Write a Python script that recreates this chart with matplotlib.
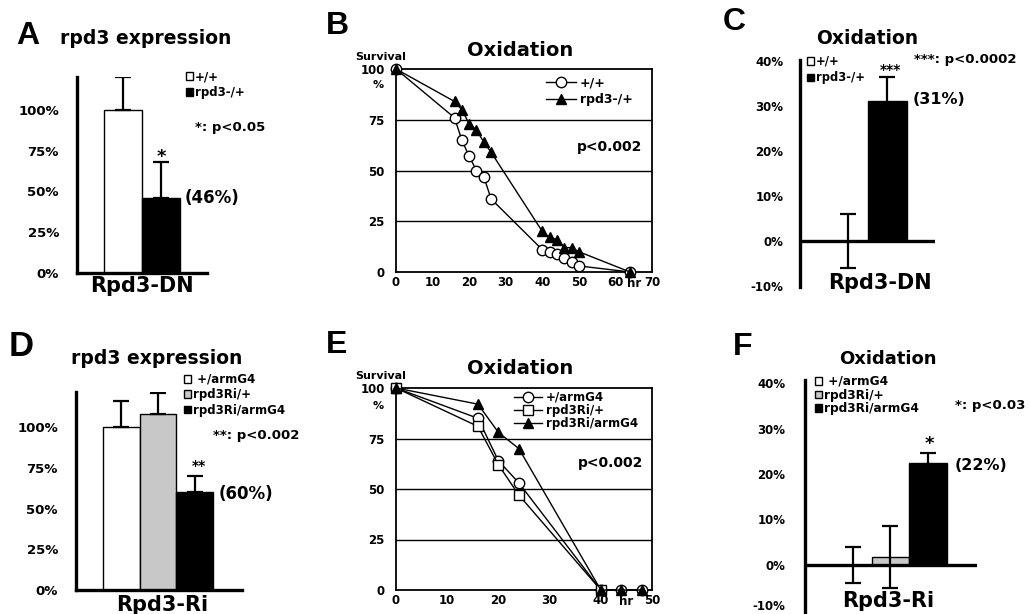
import matplotlib.pyplot as plt

plt.rcParams['font.family'] = ['DejaVu Sans']
plt.rcParams['font.weight'] = 'bold'

W, H = 1030, 614

# --- data -----------------------------------------------------------
# A: rpd3 expression, Rpd3-DN
dn_labels = ['+/+', 'rpd3-/+']
dn_expr = [100, 46]
dn_expr_err = [20, 22]

# B: survival under oxidation, Rpd3-DN
b_wt_hr = [0, 16, 18, 20, 22, 24, 26, 40, 42, 44, 46, 48, 50, 64]
b_wt_surv = [100, 76, 65, 57, 50, 47, 36, 11, 10, 9, 7, 5, 3, 0]
b_dn_hr = [0, 16, 18, 20, 22, 24, 26, 40, 42, 44, 46, 48, 50, 64]
b_dn_surv = [100, 84, 80, 73, 70, 64, 59, 20, 17, 16, 12, 12, 10, 0]

# C: lifespan change under oxidation, Rpd3-DN
dn_oxi = [0, 31]
dn_oxi_err = [6, 5.5]

# D: rpd3 expression, Rpd3-Ri
ri_labels = [' +/armG4', 'rpd3Ri/+', 'rpd3Ri/armG4']
ri_expr = [100, 108, 60]
ri_expr_err = [16, 13, 10]

# E: survival under oxidation, Rpd3-Ri
e_arm_hr = [0, 16, 20, 24, 40, 44, 48]
e_arm_surv = [100, 85, 64, 53, 0, 0, 0]
e_ri_hr = [0, 16, 20, 24, 40]
e_ri_surv = [100, 81, 62, 47, 0]
e_riarm_hr = [0, 16, 20, 24, 40, 44, 48]
e_riarm_surv = [100, 92, 78, 70, 0, 0, 0]

# F: lifespan change under oxidation, Rpd3-Ri
ri_oxi = [0, 1.8, 22.4]
ri_oxi_err = [4, 6.8, 2.3]

fig = plt.figure(figsize=(W / 100, H / 100), dpi=100)


def px_axes(l, t, r, b):
    return fig.add_axes([l / W, 1 - b / H, (r - l) / W, (b - t) / H])


def ptext(x, y, s, **kw):
    kw.setdefault('va', 'center')
    fig.text(x / W, 1 - y / H, s, **kw)


def bar_panel(box, xlim, ylim, ticks, vals, errs, colors, labels,
              up_only, zero_line, tick_fs, pad):
    ax = px_axes(*box)
    xs = list(range(len(vals)))
    handles = []
    for x, v, c, lab in zip(xs, vals, colors, labels):
        handles.append(ax.bar(x, v, width=1, color=c, edgecolor='black',
                              lw=1, label=lab, zorder=2))
    yerr = [[0] * len(errs), errs] if up_only else errs
    ax.errorbar(xs, vals, yerr=yerr, fmt='none', ecolor='black',
                elinewidth=1.6, capsize=6, capthick=1.6, zorder=3)
    ax.set_xlim(*xlim)
    ax.set_ylim(*ylim)
    ax.set_yticks(ticks)
    ax.set_yticklabels([f'{t}%' for t in ticks])
    ax.set_xticks([])
    ax.tick_params(axis='y', length=0, labelsize=tick_fs, pad=pad)
    for s in ['top', 'right']:
        ax.spines[s].set_visible(False)
    ax.spines['left'].set_linewidth(2.4)
    if zero_line:
        ax.spines['bottom'].set_visible(False)
        ax.axhline(0, color='black', lw=2.4, zorder=4)
    else:
        ax.spines['bottom'].set_linewidth(2.4)
    ax.patch.set_alpha(0)
    return ax, handles


def bar_legend(ax, handles, x, y, fs, spacing):
    ax.legend(handles=handles, loc='upper left', frameon=False,
              bbox_to_anchor=(x / W, 1 - y / H), bbox_transform=fig.transFigure,
              borderpad=0, borderaxespad=0, handlelength=0.6, handleheight=0.6,
              handletextpad=0.15, labelspacing=spacing, fontsize=fs)


def surv_panel(box, xmax, series, leg_xy, leg_fs, leg_sp):
    ax = px_axes(*box)
    for hr, surv, mk, fc, lab in series:
        ax.plot(hr, surv, color='black', lw=1, marker=mk, ms=7.5, mfc=fc,
                mec='black', mew=1, label=lab, clip_on=False, zorder=3)
    for v in (25, 50, 75):
        ax.axhline(v, color='black', lw=1, zorder=1)
    ax.set_xlim(0, xmax)
    ax.set_ylim(0, 100)
    ax.set_xticks(range(0, xmax + 1, 10))
    ax.set_yticks([0, 25, 50, 75, 100])
    ax.tick_params(length=0, labelsize=8.5)
    ax.tick_params(axis='x', pad=3)
    ax.tick_params(axis='y', pad=8)
    for s in ax.spines.values():
        s.set_linewidth(1.3)
    ax.legend(loc='upper left', frameon=False,
              bbox_to_anchor=(leg_xy[0] / W, 1 - leg_xy[1] / H),
              bbox_transform=fig.transFigure, borderpad=0, borderaxespad=0,
              handlelength=2.4, handletextpad=0.3, labelspacing=leg_sp,
              fontsize=leg_fs)
    return ax


# ---------------- A ----------------
ax, h = bar_panel((77, 77, 207, 273), (-1.21, 2.21), (0, 120.2),
                  [0, 25, 50, 75, 100], dn_expr, dn_expr_err,
                  ['white', 'black'], dn_labels, True, False, 9.5, 13)
bar_legend(ax, h, 186, 70, 8.5, 0.25)
ptext(16, 36, 'A', fontsize=23, family='Liberation Sans')
ptext(60, 39, 'rpd3 expression', fontsize=13.5)
ptext(195, 127, '*: p<0.05', fontsize=9.5)
ptext(161, 157, '*', fontsize=13, ha='center')
ptext(185, 198, '(46%)', fontsize=12)
ptext(142, 286, 'Rpd3-DN', fontsize=15, ha='center')

# ---------------- B ----------------
ax = surv_panel((396, 69, 652, 272), 70,
                [(b_wt_hr, b_wt_surv, 'o', 'white', '+/+'),
                 (b_dn_hr, b_dn_surv, '^', 'black', 'rpd3-/+')],
                (546, 76), 9, 0.35)
ax.text(65, -2.5, 'hr', fontsize=8.5, ha='center', va='top')
ptext(326, 26, 'B', fontsize=23, family='Liberation Sans')
ptext(520, 51, 'Oxidation', fontsize=14, ha='center')
ptext(381, 57, 'Survival', fontsize=8, ha='center')
ptext(378, 85, '%', fontsize=8, ha='center')
ptext(577, 147, 'p<0.002', fontsize=10)

# ---------------- C ----------------
ax, h = bar_panel((800, 60, 935, 287), (-1.23, 2.23), (-10.2, 40.2),
                  [-10, 0, 10, 20, 30, 40], dn_oxi, dn_oxi_err,
                  ['white', 'black'], dn_labels, False, True, 8.5, 12)
bar_legend(ax, h, 807, 55, 8.3, 0.3)
ptext(723, 22, 'C', fontsize=23, family='Liberation Sans')
ptext(867, 38, 'Oxidation', fontsize=13.5, ha='center')
ptext(914, 59, '***: p<0.0002', fontsize=9.5)
ptext(890, 70, '***', fontsize=10, ha='center')
ptext(913, 100, '(31%)', fontsize=11.5)
ptext(880, 283, 'Rpd3-DN', fontsize=15, ha='center')

# ---------------- D ----------------
ax, h = bar_panel((76, 392, 242, 590), (-1.23, 3.29), (0, 121.5),
                  [0, 25, 50, 75, 100], ri_expr, ri_expr_err,
                  ['white', '#c8c8c8', 'black'], ri_labels, True, False, 9.5, 13)
bar_legend(ax, h, 184, 373, 8.5, 0.2)
ptext(9, 347, 'D', fontsize=25, family='Liberation Sans')
ptext(157, 358, 'rpd3 expression', fontsize=13.5, ha='center')
ptext(213, 436, '**: p<0.002', fontsize=9.5)
ptext(199, 466, '**', fontsize=10, ha='center')
ptext(219, 494, '(60%)', fontsize=12)
ptext(162, 605, 'Rpd3-Ri', fontsize=15, ha='center')

# ---------------- E ----------------
ax = surv_panel((396, 388, 652, 590), 50,
                [(e_arm_hr, e_arm_surv, 'o', 'white', '+/armG4'),
                 (e_ri_hr, e_ri_surv, 's', 'white', 'rpd3Ri/+'),
                 (e_riarm_hr, e_riarm_surv, '^', 'black', 'rpd3Ri/armG4')],
                (514, 391), 8.5, 0.0)
ax.text(45, -2.5, 'hr', fontsize=8.5, ha='center', va='top')
ptext(326, 345, 'E', fontsize=23, family='Liberation Sans')
ptext(520, 369, 'Oxidation', fontsize=14, ha='center')
ptext(381, 376, 'Survival', fontsize=8, ha='center')
ptext(378, 406, '%', fontsize=8, ha='center')
ptext(578, 463, 'p<0.002', fontsize=10)

# ---------------- F ----------------
ax, h = bar_panel((805, 380, 977, 614), (-1.28, 3.31), (-10.8, 40.7),
                  [-10, 0, 10, 20, 30, 40], ri_oxi, ri_oxi_err,
                  ['white', '#c8c8c8', 'black'], ri_labels, False, True, 8.5, 14)
# bottom label sits on the figure edge, keep it inside
ax.get_yticklabels()[0].set_verticalalignment('baseline')
bar_legend(ax, h, 815, 375, 8.7, 0.05)
ptext(733, 347, 'F', fontsize=23, family='Liberation Sans')
ptext(888, 359, 'Oxidation', fontsize=13, ha='center')
ptext(955, 405, '*: p<0.03', fontsize=9.5)
ptext(929, 444, '*', fontsize=13, ha='center')
ptext(955, 465, '(22%)', fontsize=11.5)
ptext(888, 601, 'Rpd3-Ri', fontsize=15, ha='center')

fig.savefig('out.png', dpi=100)
